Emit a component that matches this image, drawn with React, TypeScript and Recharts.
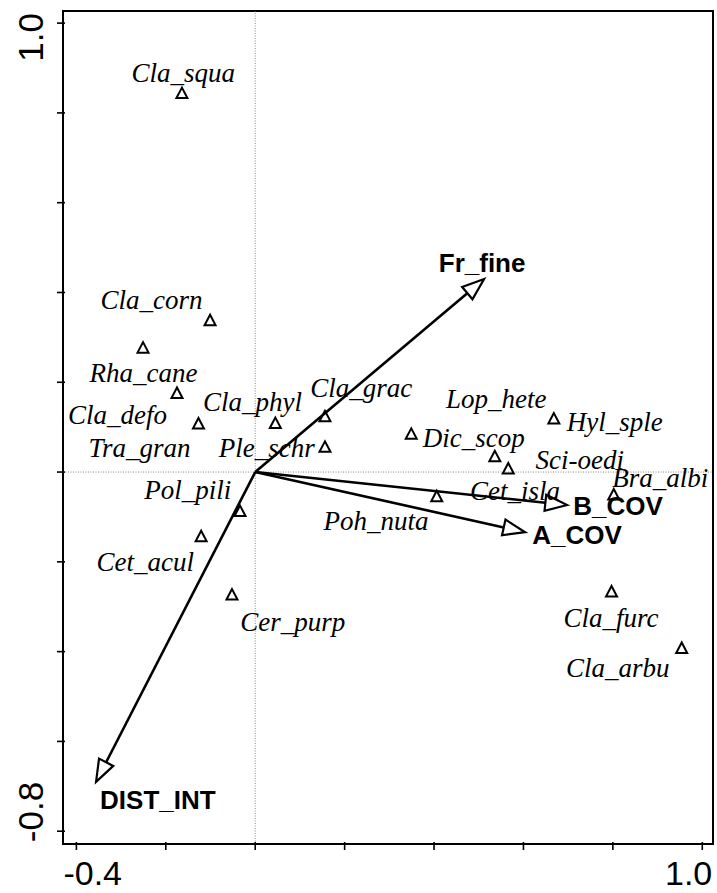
import React from 'react';
import { ScatterChart, Scatter, XAxis, YAxis, ReferenceLine, ReferenceArea } from 'recharts';

// species scores (triangles)
const speciesNames = ['Cla_squa', 'Cla_corn', 'Rha_cane', 'Cla_defo', 'Tra_gran', 'Cla_phyl', 'Cla_grac', 'Ple_schr', 'Dic_scop', 'Lop_hete', 'Sci-oedi', 'Hyl_sple', 'Poh_nuta', 'Bra_albi', 'Pol_pili', 'Cet_acul', 'Cer_purp', 'Cla_furc', 'Cla_arbu'];
const speciesX = [-0.164, -0.101, -0.251, -0.175, -0.127, 0.045, 0.156, 0.156, 0.349, 0.536, 0.566, 0.668, 0.406, 0.802, -0.034, -0.121, -0.052, 0.797, 0.954];
const speciesY = [0.843, 0.337, 0.276, 0.175, 0.107, 0.108, 0.123, 0.055, 0.084, 0.034, 0.007, 0.118, -0.055, -0.051, -0.088, -0.144, -0.274, -0.267, -0.393];

// where each species name sits (centre of the text)
const labelNames = ['Cla_squa', 'Cla_corn', 'Rha_cane', 'Cla_defo', 'Tra_gran', 'Cla_phyl', 'Ple_schr', 'Cla_grac', 'Lop_hete', 'Dic_scop', 'Hyl_sple', 'Sci-oedi', 'Bra_albi', 'Cet_isla', 'Poh_nuta', 'Pol_pili', 'Cet_acul', 'Cer_purp', 'Cla_furc', 'Cla_arbu'];
const labelX = [-0.161, -0.232, -0.250, -0.308, -0.259, -0.006, 0.026, 0.237, 0.539, 0.489, 0.804, 0.726, 0.906, 0.581, 0.270, -0.151, -0.246, 0.084, 0.796, 0.811];
const labelY = [0.889, 0.383, 0.220, 0.127, 0.053, 0.156, 0.053, 0.187, 0.163, 0.076, 0.111, 0.027, -0.013, -0.042, -0.109, -0.040, -0.200, -0.334, -0.325, -0.437];

// environmental vectors
const envNames = ['Fr_fine', 'B_COV', 'A_COV', 'DIST_INT'];
const envX = [0.512, 0.698, 0.604, -0.356];
const envY = [0.430, -0.0735, -0.134, -0.690];

const xTicks = [-0.4, -0.2, 0, 0.2, 0.4, 0.6, 0.8, 1.0];
const yTicks = [-0.8, -0.6, -0.4, -0.2, 0, 0.2, 0.4, 0.6, 0.8, 1.0];

const X_MIN = -0.43;
const X_MAX = 1.024;
const Y_MIN = -0.8285;
const Y_MAX = 1.027;

const W = 717;
const H = 893;
const PLOT = { left: 63, top: 11, right: 713, bottom: 844 };

const envLabelPos: Record<string, { anchor: 'start' | 'middle' | 'end'; dx: number; dy: number }> = {
  Fr_fine: { anchor: 'middle', dx: -2, dy: -7 },
  B_COV: { anchor: 'start', dx: 6, dy: 10 },
  A_COV: { anchor: 'start', dx: 7, dy: 12 },
  DIST_INT: { anchor: 'start', dx: 4, dy: 27 },
};

const points = speciesNames.map((name, i) => ({ name, x: speciesX[i], y: speciesY[i] }));
const labels = labelNames.map((name, i) => ({ name, x: labelX[i], y: labelY[i] }));

const SANS = '"Liberation Sans", Arial, sans-serif';
const SERIF = '"Liberation Serif", "Times New Roman", serif';

const Triangle = (props: any) => {
  const { cx, cy } = props;
  if (cx == null || cy == null) return null;
  return (
    <path
      d={`M${cx},${cy - 6} L${cx - 5.5},${cy + 4.5} L${cx + 5.5},${cy + 4.5} Z`}
      fill="none"
      stroke="#000"
      strokeWidth={2}
    />
  );
};

const SpeciesLabel = (props: any) => {
  const { cx, cy, payload } = props;
  if (cx == null || cy == null) return null;
  return (
    <text
      x={cx}
      y={cy}
      textAnchor="middle"
      dominantBaseline="central"
      fontFamily={SERIF}
      fontStyle="italic"
      fontSize={27}
      fill="#000"
    >
      {payload.name}
    </text>
  );
};

const makeArrow = (name: string) => (props: any) => {
  const { x1, y1, x2, y2 } = props;
  const a = Math.atan2(y2 - y1, x2 - x1);
  const len = 22;
  const half = 8;
  const bx = x2 - len * Math.cos(a);
  const by = y2 - len * Math.sin(a);
  const nx = -Math.sin(a) * half;
  const ny = Math.cos(a) * half;
  const pos = envLabelPos[name];
  return (
    <g>
      <line x1={x1} y1={y1} x2={bx} y2={by} stroke="#000" strokeWidth={2.6} />
      <path
        d={`M${x2},${y2} L${bx + nx},${by + ny} L${bx - nx},${by - ny} Z`}
        fill="#fff"
        stroke="#000"
        strokeWidth={2.2}
      />
      <text
        x={x2 + pos.dx}
        y={y2 + pos.dy}
        textAnchor={pos.anchor}
        fontFamily={SANS}
        fontWeight="bold"
        fontSize={26}
        fill="#000"
      >
        {name}
      </text>
    </g>
  );
};

const XTick = (props: any) => {
  const { x, y, payload } = props;
  const v = payload.value;
  const first = Math.abs(v - xTicks[0]) < 1e-9;
  const last = Math.abs(v - xTicks[xTicks.length - 1]) < 1e-9;
  return (
    <g>
      <line x1={x} x2={x} y1={y - 2} y2={y + 6} stroke="#000" strokeWidth={1.6} />
      {(first || last) && (
        <text
          x={first ? x - 13 : x + 10}
          y={y + 41}
          textAnchor={first ? 'start' : 'end'}
          fontFamily={SANS}
          fontSize={34}
          fill="#000"
        >
          {v.toFixed(1)}
        </text>
      )}
    </g>
  );
};

const YTick = (props: any) => {
  const { x, y, payload } = props;
  const v = payload.value;
  const first = Math.abs(v - yTicks[0]) < 1e-9;
  const last = Math.abs(v - yTicks[yTicks.length - 1]) < 1e-9;
  const ty = first ? y + 11 : y - 10;
  return (
    <g>
      <line x1={x - 6} x2={x + 2} y1={y} y2={y} stroke="#000" strokeWidth={1.6} />
      {(first || last) && (
        <text
          x={x - 20}
          y={ty}
          transform={`rotate(-90 ${x - 20} ${ty})`}
          textAnchor={first ? 'start' : 'end'}
          fontFamily={SANS}
          fontSize={35}
          fill="#000"
        >
          {v.toFixed(1)}
        </text>
      )}
    </g>
  );
};

export default function App() {
  return (
    <div style={{ position: 'absolute', left: 0, top: 0, width: W, height: H, background: '#fff' }}>
      <ScatterChart
        width={W}
        height={H}
        margin={{ top: PLOT.top, right: W - PLOT.right, bottom: 0, left: 0 }}
      >
        <XAxis
          type="number"
          dataKey="x"
          domain={[X_MIN, X_MAX]}
          ticks={xTicks}
          interval={0}
          height={H - PLOT.bottom}
          axisLine={false}
          tickLine={false}
          tickSize={0}
          tickMargin={0}
          tick={XTick}
        />
        <YAxis
          type="number"
          dataKey="y"
          domain={[Y_MIN, Y_MAX]}
          ticks={yTicks}
          interval={0}
          width={PLOT.left}
          axisLine={false}
          tickLine={false}
          tickSize={0}
          tickMargin={0}
          tick={YTick}
        />
        <ReferenceLine x={0} stroke="#888" strokeWidth={1} strokeDasharray="1 1.5" />
        <ReferenceLine y={0} stroke="#888" strokeWidth={1} strokeDasharray="1 1.5" />
        <ReferenceArea
          x1={X_MIN}
          x2={X_MAX}
          y1={Y_MIN}
          y2={Y_MAX}
          fill="none"
          stroke="#000"
          strokeWidth={2}
          ifOverflow="visible"
        />
        <Scatter data={points} shape={<Triangle />} isAnimationActive={false} />
        {envNames.map((name, i) => (
          <ReferenceLine
            key={name}
            segment={[{ x: 0, y: 0 }, { x: envX[i], y: envY[i] }]}
            shape={makeArrow(name)}
            ifOverflow="visible"
          />
        ))}
        <Scatter data={labels} shape={<SpeciesLabel />} isAnimationActive={false} />
      </ScatterChart>
    </div>
  );
}
